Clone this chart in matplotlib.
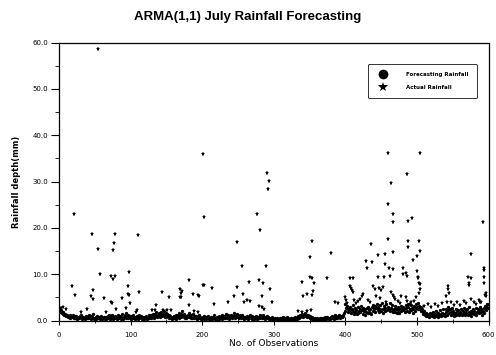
import matplotlib.pyplot as plt
from matplotlib.ticker import MultipleLocator

# forecast rainfall (mm), one value per observation 0..599
forecast = [
    2.4, 2.1, 1.9, 2.2, 1.7, 1.5, 1.8, 1.3, 1.1, 1.4, 0.9, 1.2, 0.8, 1.0, 0.7, 1.1, 0.6, 0.9, 0.8, 1.2,
    0.7, 0.5, 0.9, 0.6, 1.0, 0.4, 0.8, 0.6, 0.5, 0.9, 0.7, 1.1, 0.4, 0.6, 0.8, 0.5, 0.3, 0.7, 0.9, 0.6,
    0.5, 0.8, 1.2, 0.6, 0.4, 0.9, 0.7, 1.4, 0.5, 0.3, 0.6, 0.8, 0.4, 1.0, 0.6, 0.5, 0.7, 0.4, 0.9, 0.6,
    0.3, 0.6, 0.5, 0.8, 0.4, 0.7, 0.3, 0.5, 0.9, 0.6, 1.1, 0.4, 0.8, 0.5, 1.3, 0.7, 0.4, 0.6, 1.0, 0.5,
    0.8, 0.4, 0.6, 1.2, 0.5, 0.9, 0.3, 0.7, 1.5, 0.6, 0.4, 0.8, 1.1, 0.5, 1.7, 0.9, 1.3, 0.6, 0.8, 1.0,
    0.6, 0.4, 0.9, 0.5, 1.2, 0.7, 0.3, 0.8, 0.5, 1.0, 0.6, 0.4, 1.1, 0.7, 0.5, 0.9, 0.4, 0.6, 0.8, 0.3,
    0.7, 0.5, 1.0, 0.4, 0.8, 1.3, 0.6, 0.9, 0.5, 1.2, 0.7, 1.5, 0.9, 0.6, 1.4, 1.8, 1.0, 0.7, 1.2, 1.6,
    1.1, 0.8, 1.9, 1.3, 0.9, 1.5, 2.1, 1.2, 0.8, 1.6, 1.0, 1.4, 0.7, 1.1, 0.6, 0.9, 0.5, 0.8, 0.4, 0.7,
    0.5, 0.9, 0.6, 1.1, 0.4, 0.8, 1.3, 0.6, 1.7, 1.0, 1.4, 0.7, 2.0, 1.2, 0.8, 1.5, 0.6, 1.0, 0.5, 0.8,
    1.2, 0.7, 1.6, 0.9, 0.5, 1.1, 0.6, 1.4, 0.8, 0.5, 1.0, 0.6, 0.9, 0.4, 0.7, 1.2, 0.5, 0.8, 0.4, 0.6,
    0.5, 0.8, 0.4, 1.0, 0.6, 0.3, 0.7, 0.5, 0.9, 0.4, 0.6, 0.3, 0.8, 0.5, 0.4, 0.7, 1.1, 0.5, 0.3, 0.6,
    0.4, 0.7, 0.5, 0.9, 0.3, 0.6, 0.8, 0.4, 1.2, 0.7, 0.5, 1.0, 0.6, 1.4, 0.8, 0.5, 1.1, 0.7, 0.4, 0.9,
    1.3, 0.6, 1.0, 0.8, 1.6, 0.9, 0.5, 1.2, 0.7, 1.5, 1.0, 0.6, 0.8, 1.3, 0.5, 0.9, 1.1, 0.6, 0.8, 0.4,
    0.7, 0.5, 1.0, 0.6, 0.4, 0.8, 0.5, 1.2, 0.7, 0.4, 0.9, 0.5, 0.3, 0.7, 0.5, 1.0, 0.6, 0.4, 0.8, 0.5,
    0.6, 1.1, 0.7, 0.5, 0.9, 1.3, 0.6, 0.8, 0.4, 0.7, 1.0, 0.5, 0.8, 0.4, 0.6, 0.3, 0.5, 0.7, 0.4, 0.3,
    0.4, 0.2, 0.5, 0.3, 0.6, 0.2, 0.4, 0.3, 0.5, 0.2, 0.6, 0.3, 0.4, 0.8, 0.3, 0.5, 0.2, 0.4, 0.7, 0.3,
    0.5, 0.3, 0.4, 0.2, 0.6, 0.4, 0.3, 0.5, 0.2, 0.4, 0.7, 0.3, 0.5, 0.4, 0.9, 0.6, 1.2, 0.8, 1.0, 1.4,
    1.1, 0.8, 1.3, 0.9, 1.6, 1.0, 1.2, 0.7, 1.1, 0.8, 0.6, 0.9, 0.5, 0.7, 0.4, 0.6, 0.3, 0.5, 0.4, 0.3,
    0.5, 0.3, 0.4, 0.2, 0.5, 0.3, 0.6, 0.4, 0.2, 0.5, 0.3, 0.7, 0.4, 0.3, 0.6, 0.8, 0.5, 0.3, 0.6, 0.4,
    0.7, 0.5, 0.9, 0.6, 0.4, 0.8, 1.1, 0.6, 0.5, 0.9, 0.7, 1.2, 0.8, 0.5, 1.0, 0.7, 1.3, 0.9, 1.6, 2.0,
    3.5, 2.8, 3.2, 2.4, 1.9, 2.6, 3.0, 2.2, 1.6, 2.5, 3.3, 2.0, 1.4, 2.7, 1.8, 2.3, 1.5, 2.9, 1.7, 2.1,
    2.6, 1.8, 3.1, 2.3, 1.5, 2.8, 2.0, 1.3, 2.4, 1.9, 2.7, 1.6, 3.0, 2.2, 1.7, 2.5, 1.4, 2.9, 2.1, 3.4,
    2.5, 3.2, 1.8, 2.8, 3.6, 2.2, 2.9, 1.9, 3.3, 2.6, 2.0, 3.8, 2.4, 1.7, 3.1, 2.7, 2.1, 3.5, 2.3, 2.8,
    3.0, 2.4, 3.7, 2.0, 2.8, 3.4, 2.2, 1.8, 2.6, 3.1, 1.9, 2.5, 1.6, 2.3, 2.9, 1.7, 2.4, 2.0, 3.2, 2.6,
    2.2, 3.0, 2.5, 1.8, 3.4, 2.7, 2.1, 3.6, 2.9, 1.9, 2.6, 3.3, 2.3, 2.8, 1.7, 2.4, 3.1, 2.0, 2.7, 3.5,
    2.9, 3.8, 2.4, 3.2, 2.6, 3.0, 2.1, 2.5, 1.8, 1.4, 2.0, 1.2, 1.6, 1.0, 1.5, 0.9, 1.3, 0.8, 1.7, 1.1,
    1.4, 0.9, 1.8, 1.2, 0.7, 1.5, 1.0, 2.0, 1.3, 0.8, 1.6, 1.1, 2.2, 1.4, 0.9, 1.7, 1.2, 2.4, 1.5, 1.0,
    1.8, 2.6, 1.3, 2.2, 3.0, 1.6, 2.4, 1.1, 1.9, 2.8, 1.4, 2.1, 1.0, 1.7, 2.5, 1.3, 2.0, 1.5, 2.3, 1.2,
    1.9, 1.4, 2.6, 1.1, 2.0, 1.6, 2.8, 1.3, 2.2, 1.7, 2.4, 1.2, 1.8, 2.9, 1.5, 2.1, 1.0, 1.7, 2.5, 1.4,
    2.0, 1.5, 2.7, 1.2, 1.9, 2.4, 1.6, 2.2, 3.0, 1.8, 2.5, 1.3, 2.1, 2.8, 1.7, 3.2, 2.3, 2.9, 3.6, 2.7,
]
obs = list(range(len(forecast)))

# actual rainfall (mm): observation number and value of the visible points
actual_obs = [
    3, 6, 10, 18, 21, 22, 30, 39, 45, 46, 47, 48, 54, 55, 57, 63, 66, 72, 73, 74,
    75, 75, 77, 78, 78, 79, 88, 93, 96, 96, 98, 98, 99, 108, 109, 111, 112, 130, 134, 136,
    144, 145, 151, 154, 156, 169, 169, 171, 171, 172, 181, 181, 187, 189, 194, 194, 195, 201, 201,
    202, 202, 213, 216, 236, 245, 248, 248, 255, 257, 259, 263, 266, 267, 277, 279, 280, 281, 283, 284,
    285, 286, 289, 291, 292, 293, 295, 298, 334, 340, 340, 341, 346, 347, 350, 350, 352, 353, 353, 353,
    355, 356, 374, 380, 385, 389,
    400, 401, 402, 407, 407, 408, 409, 410, 410, 412, 415, 418, 421, 423, 425, 429, 430, 432, 435, 436,
    437, 438, 441, 443, 445, 446, 447, 448, 450, 452, 454, 455, 456, 457, 459, 460, 460, 461, 462, 464,
    464, 466, 467, 467, 467, 467, 468, 470, 473, 476, 478, 480, 481, 484, 485, 486, 486, 486, 488, 488,
    488, 490, 492, 493, 494, 496, 498, 500, 500, 501, 502, 503, 503, 503, 504, 504, 504, 504, 510, 515,
    520, 525, 530, 535, 540, 542, 544, 544, 545, 548, 552, 556, 560, 565, 568, 571, 572, 573, 575, 575,
    576, 580, 583, 586, 588, 590, 592, 594, 594, 594, 594, 595, 596, 597, 599,
]
actual_rain = [
    2.8, 3.0, 2.5, 7.4, 23.1, 5.5, 1.9, 2.5, 5.2, 18.6, 4.6, 6.6, 58.7, 15.5, 10.1, 4.9, 1.8, 9.6, 4.0, 3.7,
    9.0, 15.3, 16.7, 18.6, 9.7, 2.4, 4.9, 2.8, 7.4, 5.7, 5.6, 10.4, 3.7, 1.9, 2.2, 18.4, 6.2, 2.3, 2.3, 3.3,
    6.2, 2.3, 2.3, 5.1, 2.3, 6.9, 5.0, 6.0, 5.0, 6.3, 8.7, 3.3, 5.7, 2.1, 5.5, 1.8, 5.4, 7.7, 35.9,
    22.4, 7.6, 7.1, 3.6, 3.9, 5.3, 16.9, 7.2, 11.8, 5.8, 4.1, 4.4, 8.4, 4.2, 22.9, 3.2, 8.7, 19.5, 5.3, 2.9,
    8.2, 2.6, 11.7, 31.9, 28.5, 30.2, 6.9, 3.9, 2.1, 8.3, 1.9, 5.2, 2.0, 5.8, 13.8, 9.5, 2.2, 17.1, 9.2, 5.5,
    6.4, 8.2, 9.2, 14.6, 4.0, 3.7,
    5.1, 4.4, 3.7, 7.5, 9.1, 7.0, 6.7, 9.2, 6.1, 4.5, 3.8, 4.2, 4.6, 5.3, 5.8, 12.8, 11.4, 4.5, 3.9, 16.5,
    12.7, 7.4, 6.8, 5.2, 14.1, 9.3, 7.0, 4.8, 6.6, 7.2, 9.5, 14.3, 12.2, 4.0, 36.2, 25.1, 17.6, 11.4, 9.6, 29.8,
    6.1, 5.5, 23.0, 21.2, 14.9, 11.2, 5.1, 4.6, 4.3, 3.8, 5.4, 11.4, 10.0, 5.0, 10.2, 9.6, 31.6, 4.3, 21.4, 17.1,
    15.8, 3.6, 3.9, 22.2, 13.0, 4.2, 5.0, 13.9, 10.7, 9.3, 9.2, 17.1, 8.1, 6.0, 36.2, 15.0, 7.9, 6.8, 3.2, 3.5,
    2.9, 3.6, 3.1, 3.8, 5.2, 4.0, 7.4, 6.9, 6.0, 4.1, 3.4, 3.9, 3.3, 4.2, 3.7, 9.4, 7.6, 8.2, 14.3, 9.2,
    4.6, 4.0, 3.5, 4.4, 3.9, 4.0, 21.2, 11.3, 10.9, 9.4, 8.2, 5.6, 6.0, 5.4, 3.3,
]

y_ticks = [0, 10, 20, 30, 40, 50, 60]
y_tick_labels = ['0.0', '10.0', '20.0', '30.0', '40.0', '50.0', '60.0']
x_ticks = [0, 100, 200, 300, 400, 500, 600]

fig = plt.figure(figsize=(4.96, 3.55), dpi=100)
ax = fig.add_axes([0.119, 0.097, 0.866, 0.783])

ax.plot(obs, forecast, 'o', color='black', markersize=2.4, markeredgewidth=0,
        label='Forecasting Rainfall')
ax.plot(actual_obs, actual_rain, '*', color='black', markersize=3.6, markeredgewidth=0,
        label='Actual Rainfall')

ax.set_xlim(0, 600)
ax.set_ylim(0, 60)
ax.set_xticks(x_ticks)
ax.set_yticks(y_ticks)
ax.set_yticklabels(y_tick_labels)
ax.xaxis.set_minor_locator(MultipleLocator(50))
ax.yaxis.set_minor_locator(MultipleLocator(5))
ax.tick_params(axis='both', which='major', labelsize=5, length=6, width=0.8, pad=2)
ax.tick_params(axis='x', which='both', direction='inout', pad=5)
ax.tick_params(axis='both', which='minor', length=3, width=0.6)
for s in ax.spines.values():
    s.set_linewidth(0.9)

ax.set_xlabel('No. of Observations', fontsize=6.5, labelpad=1)
ax.set_ylabel('Rainfall depth(mm)', fontsize=6, fontweight='bold', labelpad=8)
fig.text(0.5, 0.952, 'ARMA(1,1) July Rainfall Forecasting', ha='center', va='center',
         fontsize=9.5, fontweight='bold', family='Liberation Sans')

leg = ax.legend(loc='upper right', bbox_to_anchor=(0.972, 0.923), fontsize=4,
                frameon=True, fancybox=True, edgecolor='black', borderpad=1.5,
                labelspacing=1.4, handlelength=2.5, handletextpad=2.8, borderaxespad=0)
leg.get_frame().set_linewidth(0.7)
hs = leg.legend_handles
hs[0].set_markersize(7)
hs[1].set_markersize(7)
for t in leg.get_texts():
    t.set_fontweight('bold')

plt.savefig('out.png', dpi=100)
